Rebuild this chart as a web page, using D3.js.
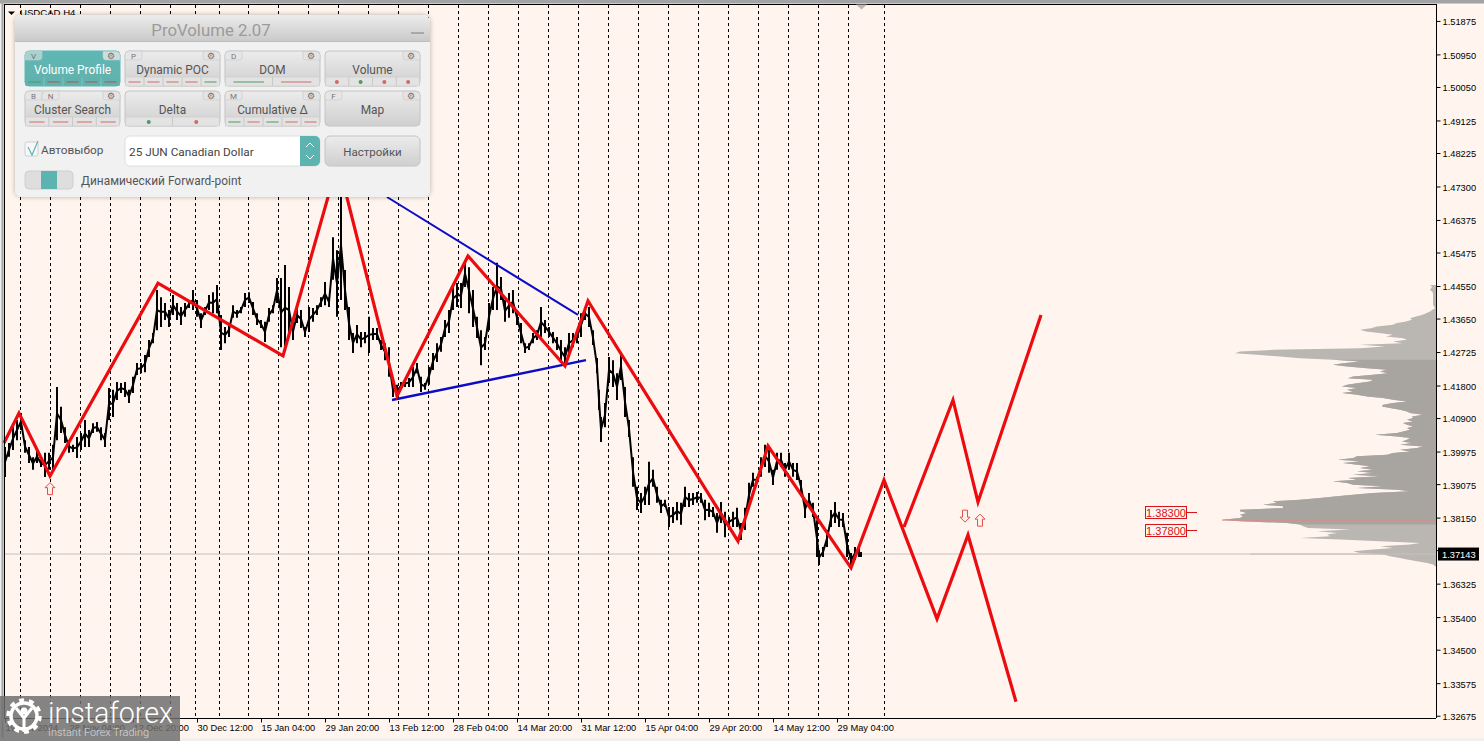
<!DOCTYPE html>
<html><head><meta charset="utf-8">
<script src="https://cdn.jsdelivr.net/npm/d3@7/dist/d3.min.js"></script>
<style>
html,body{margin:0;padding:0;background:#f0f0f0;overflow:hidden}
svg{display:block}
text{font-family:"Liberation Sans",Arial,sans-serif}
.panel text{font-family:Roboto,"Noto Sans",sans-serif}
</style></head><body><svg id="c" width="1484" height="741"></svg>
<script>
const symbolTitle = "USDCAD,H4";
const priceTicks = [1.51875,1.50950,1.50050,1.49125,1.48225,1.47300,1.46375,1.45475,1.44550,1.43650,1.42725,1.41800,1.40900,1.39975,1.39075,1.38150,1.37250,1.36325,1.35400,1.34500,1.33575,1.32675];
const timeBars = [5,69,133,197,261,325,389,453,517,581,645,709,773,837];
const timeLabels = ["19 Nov 2024","28 Nov 04:00","12 Dec 20:00","30 Dec 12:00","15 Jan 04:00","29 Jan 20:00","13 Feb 12:00","28 Feb 04:00","14 Mar 20:00","31 Mar 12:00","15 Apr 04:00","29 Apr 20:00","14 May 12:00","29 May 04:00"];
const sessionBars = [20,50,80,110,140,170,195,219,248,278,308,338,368,398,428,458,488,518,548,578,608,638,668,698,728,758,788,818,848,884];

const barIndex = [5,9,13,17,21,25,29,33,37,41,45,49,53,57,61,65,69,73,77,81,85,89,93,97,101,105,109,113,117,121,125,129,133,137,141,145,149,153,157,161,165,169,173,177,181,185,189,193,197,201,205,209,213,217,221,225,229,233,237,241,245,249,253,257,261,265,269,273,277,281,285,289,293,297,301,305,309,313,317,321,325,329,333,337,341,345,349,353,357,361,365,369,373,377,381,385,389,393,397,401,405,409,413,417,421,425,429,433,437,441,445,449,453,457,461,465,469,473,477,481,485,489,493,497,501,505,509,513,517,521,525,529,533,537,541,545,549,553,557,561,565,569,573,577,581,585,589,593,597,599,601,605,609,613,617,621,625,629,633,637,641,645,649,653,657,661,665,669,673,677,681,685,689,693,697,701,705,709,713,717,721,725,729,733,737,741,745,749,753,757,761,765,769,773,777,781,785,789,793,797,801,805,809,813,817,819,823,827,831,835,839,843,847,851,855,859,861];
const highs = [1.4010,1.4021,1.4065,1.4085,1.4104,1.4029,1.4010,1.3982,1.4002,1.3974,1.3994,1.3994,1.4016,1.4176,1.4121,1.4065,1.4029,1.4016,1.4038,1.4049,1.4085,1.4057,1.4076,1.4079,1.4065,1.4049,1.4173,1.4168,1.4190,1.4187,1.4190,1.4168,1.4204,1.4242,1.4242,1.4264,1.4306,1.4325,1.4444,1.4424,1.4408,1.4389,1.4430,1.4408,1.4397,1.4408,1.4416,1.4444,1.4416,1.4380,1.4397,1.4430,1.4438,1.4458,1.4375,1.4342,1.4353,1.4402,1.4389,1.4397,1.4436,1.4438,1.4411,1.4380,1.4361,1.4356,1.4394,1.4402,1.4477,1.4477,1.4513,1.4452,1.4353,1.4397,1.4389,1.4342,1.4397,1.4394,1.4402,1.4424,1.4466,1.4424,1.4590,1.4554,1.4720,1.4499,1.4397,1.4325,1.4347,1.4328,1.4328,1.4370,1.4339,1.4339,1.4306,1.4297,1.4286,1.4187,1.4182,1.4190,1.4195,1.4201,1.4231,1.4242,1.4204,1.4187,1.4231,1.4270,1.4297,1.4314,1.4361,1.4389,1.4452,1.4463,1.4463,1.4527,1.4507,1.4444,1.4370,1.4333,1.4314,1.4408,1.4452,1.4519,1.4480,1.4416,1.4436,1.4444,1.4389,1.4353,1.4297,1.4297,1.4325,1.4333,1.4397,1.4361,1.4342,1.4328,1.4314,1.4306,1.4286,1.4325,1.4325,1.4333,1.4380,1.4397,1.4397,1.4333,1.4256,1.4168,1.4093,1.4132,1.4259,1.4250,1.4214,1.4270,1.4176,1.4085,1.3982,1.3900,1.3883,1.3900,1.3969,1.3947,1.3900,1.3864,1.3864,1.3844,1.3844,1.3858,1.3856,1.3900,1.3883,1.3883,1.3886,1.3883,1.3864,1.3856,1.3844,1.3828,1.3858,1.3831,1.3817,1.3831,1.3842,1.3800,1.3842,1.3911,1.3939,1.3928,1.3982,1.4016,1.4002,1.3947,1.3994,1.3994,1.3966,1.3994,1.3966,1.3966,1.3919,1.3864,1.3883,1.3856,1.3808,1.3725,1.3734,1.3781,1.3836,1.3858,1.3831,1.3828,1.3773,1.3717,1.3734,1.3734,1.3720];
const lows = [1.3927,1.3983,1.4002,1.4029,1.4057,1.3994,1.3966,1.3947,1.3966,1.3955,1.3927,1.3947,1.3947,1.4029,1.4049,1.4021,1.3994,1.3996,1.3980,1.4002,1.4010,1.4010,1.4049,1.4052,1.4029,1.4010,1.4085,1.4093,1.4140,1.4159,1.4148,1.4132,1.4159,1.4209,1.4214,1.4217,1.4259,1.4297,1.4333,1.4342,1.4361,1.4342,1.4375,1.4361,1.4347,1.4370,1.4394,1.4389,1.4370,1.4339,1.4375,1.4389,1.4380,1.4380,1.4278,1.4297,1.4314,1.4367,1.4367,1.4380,1.4397,1.4408,1.4375,1.4347,1.4339,1.4300,1.4356,1.4380,1.4408,1.4286,1.4278,1.4325,1.4306,1.4353,1.4339,1.4314,1.4328,1.4356,1.4375,1.4397,1.4402,1.4397,1.4472,1.4370,1.4416,1.4389,1.4306,1.4270,1.4297,1.4286,1.4297,1.4270,1.4306,1.4306,1.4278,1.4250,1.4204,1.4148,1.4148,1.4168,1.4176,1.4176,1.4176,1.4214,1.4162,1.4168,1.4182,1.4223,1.4245,1.4273,1.4314,1.4325,1.4389,1.4397,1.4394,1.4452,1.4380,1.4342,1.4311,1.4236,1.4278,1.4333,1.4389,1.4389,1.4416,1.4356,1.4367,1.4380,1.4347,1.4297,1.4270,1.4278,1.4297,1.4306,1.4314,1.4325,1.4314,1.4297,1.4278,1.4245,1.4231,1.4270,1.4286,1.4297,1.4314,1.4361,1.4342,1.4292,1.4214,1.4112,1.4024,1.4065,1.4187,1.4176,1.4140,1.4195,1.4093,1.4038,1.3900,1.3836,1.3828,1.3850,1.3850,1.3900,1.3856,1.3828,1.3844,1.3789,1.3800,1.3808,1.3795,1.3844,1.3844,1.3850,1.3856,1.3856,1.3808,1.3817,1.3817,1.3773,1.3800,1.3761,1.3789,1.3789,1.3789,1.3753,1.3781,1.3844,1.3900,1.3911,1.3928,1.3955,1.3939,1.3905,1.3947,1.3955,1.3928,1.3947,1.3928,1.3919,1.3883,1.3814,1.3844,1.3817,1.3706,1.3684,1.3706,1.3734,1.3789,1.3800,1.3789,1.3789,1.3706,1.3678,1.3698,1.3706,1.3706];

const zigzagBars = [4,19,50,158,283,338,397,468,565,588,738,768,851,884,937,968,1016];
const zigzagPrices = [1.4021,1.4104,1.3930,1.4463,1.4262,1.4798,1.4151,1.4538,1.4234,1.4414,1.3750,1.4013,1.3676,1.3919,1.3535,1.3767,1.3306];
const forecastBars = [904,953,978,1041];
const forecastPrices = [1.3789,1.4140,1.3858,1.4375];
const channelTopBars = [387,578];
const channelTopPrices = [1.4701,1.4375];
const channelBottomBars = [392,586];
const channelBottomPrices = [1.4140,1.4250];
const upArrows = [[50,1.3895],[980,1.3808]];
const downArrows = [[965,1.3819]];

const currentPrice = 1.37143;
const levelPrices = [1.383,1.378];
const profileTop = 1.4458;
const profileStep = 0.00046;
const profileVolumes = [6,4,5,6,4,3,3,3,3,3,3,3,3,2,1,4,6,10,14,20,26,24,30,40,43,59,65,76,70,55,43,50,33,29,43,34,76,51,76,163,196,201,179,156,136,103,76,93,103,89,69,49,56,48,63,83,88,63,66,79,89,94,79,89,83,94,79,69,53,43,29,43,53,54,46,36,29,26,13,24,23,29,23,33,29,23,29,26,33,39,61,39,26,29,34,24,36,13,19,36,26,43,49,79,83,98,76,93,79,66,76,63,79,63,83,56,88,79,103,89,83,53,79,39,26,63,83,99,116,136,163,159,173,153,153,196,196,189,196,193,196,214,196,149,136,133,128,86,119,99,109,106,136,96,56,16,26,56,43,63,83,76,53,46,36,29,19,9,3,1];
const valueAreaHigh = 1.42552, valueAreaLow = 1.3795, pocPrice = 1.3808;

const panelTitle = "ProVolume 2.07";
const buttonLabels = ["Volume Profile","Dynamic POC","DOM","Volume","Cluster Search","Delta","Cumulative Δ","Map"];
const buttonKeys = [["V"],["P"],["D"],[],["B","N"],[],["M"],["F"]];
const buttonStates = ["grrrr","rrrrg","gr","rgrr","rrrr","gr","grgrr",""];
const buttonDots = [false,false,false,true,false,true,false,false];
const contractName = "25 JUN Canadian Dollar";
const settingsLabel = "Настройки", autoLabel = "Автовыбор", forwardLabel = "Динамический Forward-point";

const svg = d3.select("#c");
const bg = "#fff5ee";
const x = d3.scaleLinear().domain([4,1436]).range([4,1436]);
const y = d3.scaleLinear().domain([1.4455,1.3815]).range([286,517.6]);
const vol = d3.scaleLinear().domain([0,214]).range([1436,1222]);

svg.append("rect").attr("x",4).attr("y",4).attr("width",1480).attr("height",734).attr("fill",bg);
svg.append("rect").attr("x",0).attr("y",0).attr("width",1484).attr("height",3.5).attr("fill","#a3a3a3");
svg.append("rect").attr("x",1.5).attr("y",0).attr("width",2).attr("height",738).attr("fill","#a3a3a3");

// session lines
svg.append("g").selectAll("line").data(sessionBars).join("line")
 .attr("x1",d=>x(d)+.5).attr("x2",d=>x(d)+.5).attr("y1",5).attr("y2",718)
 .attr("stroke","#000").attr("stroke-width",1).attr("stroke-dasharray","3,3");

// current price
svg.append("line").attr("x1",5).attr("x2",1436).attr("y1",y(currentPrice)).attr("y2",y(currentPrice)).attr("stroke","#c9bfbc").attr("stroke-width",1);

// profile
const rows = profileVolumes.map((v,i)=>({v,p:profileTop-profileStep*i}));
const areaP = d3.area().y(d=>y(d.p)).x0(1436).x1(d=>vol(d.v));
svg.append("path").attr("d",areaP(rows)).attr("fill","#bab6b2");
svg.append("path").attr("d",areaP(rows.filter(d=>d.p<=valueAreaHigh&&d.p>=valueAreaLow))).attr("fill","#a8a4a0");
svg.append("line").attr("x1",vol(214)).attr("x2",1436).attr("y1",y(pocPrice)).attr("y2",y(pocPrice)).attr("stroke","#e08a86").attr("stroke-width",1);
svg.append("line").attr("x1",1250).attr("x2",1436).attr("y1",y(currentPrice)).attr("y2",y(currentPrice)).attr("stroke","#c9bfbc").attr("stroke-width",1);

// price series: high-low bars joined by a mid-price line
const mids = barIndex.map((b,i)=>[b,(highs[i]+lows[i])/2]);
svg.append("path").attr("d",d3.line().x(d=>x(d[0])).y(d=>y(d[1]))(mids)).attr("fill","none").attr("stroke","#000").attr("stroke-width",2);
svg.append("g").selectAll("line").data(barIndex).join("line")
 .attr("x1",d=>x(d)).attr("x2",d=>x(d)).attr("y1",(d,i)=>y(highs[i])).attr("y2",(d,i)=>y(lows[i]))
 .attr("stroke","#000").attr("stroke-width",2);

// channel
const pl = d3.line().x(d=>x(d[0])).y(d=>y(d[1]));
svg.append("path").attr("d",pl(d3.zip(channelTopBars,channelTopPrices))).attr("stroke","#0c0cc8").attr("stroke-width",2).attr("fill","none");
svg.append("path").attr("d",pl(d3.zip(channelBottomBars,channelBottomPrices))).attr("stroke","#0c0cc8").attr("stroke-width",2.4).attr("fill","none");

// zigzag
const red="#ec0c10";
svg.append("path").attr("d",pl(d3.zip(zigzagBars,zigzagPrices))).attr("stroke",red).attr("stroke-width",3.2).attr("fill","none");
svg.append("path").attr("d",pl(d3.zip(forecastBars,forecastPrices))).attr("stroke",red).attr("stroke-width",3.2).attr("fill","none");

// arrows
const upPath="M0,-6 L5,-1 L2.5,-1 L2.5,6 L-2.5,6 L-2.5,-1 L-5,-1 Z";
svg.append("g").selectAll("path").data(upArrows).join("path").attr("d",upPath).attr("transform",d=>`translate(${x(d[0])},${y(d[1])})`).attr("fill","#fff0ea").attr("stroke","#e2504c").attr("stroke-width",1);
svg.append("g").selectAll("path").data(downArrows).join("path").attr("d",upPath).attr("transform",d=>`translate(${x(d[0])},${y(d[1])}) scale(1,-1)`).attr("fill","#fff0ea").attr("stroke","#e2504c").attr("stroke-width",1);

// levels
const lv = svg.append("g").selectAll("g").data(levelPrices).join("g").attr("transform",d=>`translate(0,${Math.round(y(d))+.5})`);
lv.append("rect").attr("x",1145.5).attr("y",-6).attr("width",41).attr("height",12).attr("fill","none").attr("stroke","#d8131a");
lv.append("line").attr("x1",1186).attr("x2",1197).attr("stroke","#d8131a");
lv.append("text").attr("x",1166).attr("y",4).attr("text-anchor","middle").attr("font-size",11).attr("fill","#d8131a").text(d=>d3.format(".5f")(d));

// axes
const ay = svg.append("g").attr("transform","translate(1436.5,0)").call(d3.axisRight(y).tickValues(priceTicks).tickFormat(d3.format(".5f")).tickSize(4).tickSizeOuter(0));
ay.select(".domain").attr("d","M0,4V718").attr("stroke","#000");
ay.selectAll("text").attr("x",6).attr("dy","0.42em").attr("font-size",9.3).attr("font-family","Liberation Sans").attr("fill","#000");
const ax = svg.append("g").attr("transform","translate(0,718.5)").call(d3.axisBottom(x).tickValues(timeBars).tickFormat((d,i)=>timeLabels[i]).tickSize(4).tickSizeOuter(0));
ax.select(".domain").attr("d","M4,0H1436").attr("stroke","#000");
ax.selectAll("text").attr("text-anchor","start").attr("x",0).attr("y",6).attr("font-size",9.3).attr("font-family","Liberation Sans").attr("fill","#000");

// frame lines
svg.append("line").attr("x1",4.5).attr("x2",4.5).attr("y1",4).attr("y2",718).attr("stroke","#000");
svg.append("line").attr("x1",4).attr("x2",1436).attr("y1",4.5).attr("y2",4.5).attr("stroke","#000");
svg.append("path").attr("d","M856,4.5 L867,4.5 L861.5,9.5 Z").attr("fill","#bdb8b4");

// current price tag
svg.append("rect").attr("x",1438).attr("y",y(currentPrice)-6.5).attr("width",41).attr("height",13).attr("fill","#000");
svg.append("text").attr("x",1442).attr("y",y(currentPrice)+3.5).attr("font-size",9.3).attr("fill","#fff").text(d3.format(".5f")(currentPrice));

// title
svg.append("path").attr("d","M8,11.5 L15,11.5 L11.5,15 Z").attr("fill","#000");
svg.append("text").attr("x",20).attr("y",15.5).attr("font-size",9.6).attr("fill","#000").text(symbolTitle);

// panel
const defs = svg.append("defs");
const g1 = defs.append("linearGradient").attr("id","hdr").attr("x1",0).attr("x2",0).attr("y1",0).attr("y2",1);
g1.append("stop").attr("offset",0).attr("stop-color","#ececec"); g1.append("stop").attr("offset",1).attr("stop-color","#c9c9c9");
const g2 = defs.append("linearGradient").attr("id","btn").attr("x1",0).attr("x2",0).attr("y1",0).attr("y2",1);
g2.append("stop").attr("offset",0).attr("stop-color","#ececec"); g2.append("stop").attr("offset",1).attr("stop-color","#cfcfcf");
const g3 = defs.append("linearGradient").attr("id","teal").attr("x1",0).attr("x2",0).attr("y1",0).attr("y2",1);
g3.append("stop").attr("offset",0).attr("stop-color","#5cb8b4"); g3.append("stop").attr("offset",1).attr("stop-color","#66b0ac");
const sh = defs.append("filter").attr("id","sh").attr("x","-5%").attr("y","-5%").attr("width","110%").attr("height","110%");
sh.append("feDropShadow").attr("dx",0).attr("dy",0).attr("stdDeviation",2.5).attr("flood-color","#000").attr("flood-opacity",.3);

const P = svg.append("g").attr("class","panel");
P.append("rect").attr("x",15).attr("y",15).attr("width",415).attr("height",182).attr("rx",7).attr("fill","#f1f1f1").attr("filter","url(#sh)");
P.append("path").attr("d","M15,42 V22 a7,7 0 0 1 7,-7 H423 a7,7 0 0 1 7,7 V42 Z").attr("fill","url(#hdr)");
P.append("line").attr("x1",15).attr("x2",430).attr("y1",41.5).attr("y2",41.5).attr("stroke","#bdbdbd");
P.append("text").attr("x",211).attr("y",35.5).attr("text-anchor","middle").attr("font-size",16.8).attr("fill","#9b9b9b").text(panelTitle);
P.append("rect").attr("x",411).attr("y",32).attr("width",13).attr("height",2).attr("fill","#a9a9a9");

const stateCol = {g:"#4f9a62",r:"#cf6a66"};
buttonLabels.forEach((lab,i)=>{
  const bx = 25+100*(i%4), by = i<4?51:91, bw = 95, bh = 35;
  const b = P.append("g").attr("transform",`translate(${bx},${by})`);
  const active = i===0;
  b.append("rect").attr("width",bw).attr("height",bh).attr("rx",4).attr("fill",active?"url(#teal)":"url(#btn)").attr("stroke",active?"#5cb8b4":"#c4c4c4");
  const st = buttonStates[i];
  if(st.length){
    b.append("rect").attr("x",.5).attr("y",26).attr("width",bw-1).attr("height",9).attr("fill",active?"#5fb2ae":"#e3e3e3").attr("stroke",active?"none":"#cacaca").attr("stroke-width",.6);
    const w = bw/st.length;
    st.split("").forEach((c,k)=>{
      if(k>0) b.append("line").attr("x1",w*k).attr("x2",w*k).attr("y1",26).attr("y2",35).attr("stroke",active?"#7cc4c0":"#c8c8c8");
      if(buttonDots[i]) b.append("circle").attr("cx",w*k+w/2).attr("cy",31).attr("r",2).attr("fill",stateCol[c]);
      else b.append("line").attr("x1",w*k+w*.18).attr("x2",w*k+w*.82).attr("y1",31).attr("y2",31).attr("stroke",active&&c==="r"?"#b5544e":stateCol[c]).attr("stroke-width",1);
    });
  }
  b.append("text").attr("x",bw/2).attr("y",22.5).attr("text-anchor","middle").attr("font-size",11.9).attr("fill",active?"#fff":"#555").text(lab);
  b.append("path").attr("d",`M${bw-17},0.5 H${bw-4} a4,4 0 0 1 4,4 V9 H${bw-14} a3,3 0 0 1 -3,-3 Z`).attr("fill",active?"#cfdedd":"#e4e4e4").attr("stroke","#c6c6c6").attr("stroke-width",.6);
  b.append("text").attr("x",bw-9).attr("y",7.5).attr("text-anchor","middle").attr("font-size",9).style("font-family","DejaVu Sans").attr("fill","#6f6f6f").text("⚙");
  buttonKeys[i].forEach((k,j)=>{
    b.append("path").attr("d",`M${j*17},4 a4,4 0 0 1 4,-4 H${j*17+17} V6 a3,3 0 0 1 -3,3 H${j*17} Z`).attr("fill",active?"#a9d2cf":"#e6e6e6").attr("stroke","#c6c6c6").attr("stroke-width",.6);
    b.append("text").attr("x",j*17+8.5).attr("y",7.5).attr("text-anchor","middle").attr("font-size",8).attr("fill",active?"#6f6f6f":"#777").text(k);
  });
});
// checkbox
P.append("rect").attr("x",25).attr("y",142).attr("width",13).attr("height",14).attr("rx",2).attr("fill","#f7f7f7").attr("stroke","#cfcfcf");
P.append("path").attr("d","M28,147 L32,155 L38,141").attr("fill","none").attr("stroke","#5cb8b4").attr("stroke-width",1.2);
P.append("text").attr("x",41).attr("y",154).attr("font-size",11.8).attr("fill","#555").text(autoLabel);
// combo
P.append("rect").attr("x",125).attr("y",136).attr("width",195).attr("height",30).attr("rx",5).attr("fill","#fff").attr("stroke","#dedede");
P.append("path").attr("d","M300,136 H315 a5,5 0 0 1 5,5 V161 a5,5 0 0 1 -5,5 H300 Z").attr("fill","#5cb3af");
P.append("path").attr("d","M306,147 l4,-4 l4,4 M306,155 l4,4 l4,-4").attr("fill","none").attr("stroke","#fff").attr("stroke-width",1);
P.append("text").attr("x",129).attr("y",156).attr("font-size",11.8).attr("fill","#444").text(contractName);
P.append("rect").attr("x",325).attr("y",136).attr("width",95).attr("height",30).attr("rx",5).attr("fill","url(#btn)").attr("stroke","#c4c4c4");
P.append("text").attr("x",372.5).attr("y",156).attr("text-anchor","middle").attr("font-size",11.5).attr("fill","#555").text(settingsLabel);
// toggle
P.append("rect").attr("x",25).attr("y",171).attr("width",48).attr("height",18).attr("rx",4).attr("fill","#dedede").attr("stroke","#cfcfcf");
P.append("rect").attr("x",41).attr("y",171).attr("width",16).attr("height",18).attr("fill","#5cb3af");
P.append("text").attr("x",81).attr("y",185).attr("font-size",11.9).attr("fill","#555").text(forwardLabel);

// bottom strip
svg.append("rect").attr("x",0).attr("y",738).attr("width",1484).attr("height",3).attr("fill","#f0f0f0");

// logo
const L = svg.append("g");
L.append("rect").attr("x",0).attr("y",696).attr("width",180).attr("height",45).attr("fill","#6e6e6e").attr("fill-opacity",.84);
L.append("circle").attr("cx",24).attr("cy",716).attr("r",13).attr("fill","none").attr("stroke","#fff").attr("stroke-width",3.5);
L.append("circle").attr("cx",24).attr("cy",716).attr("r",16).attr("fill","none").attr("stroke","#fff").attr("stroke-width",3.5).attr("stroke-dasharray","5,5");
L.append("circle").attr("cx",24).attr("cy",711).attr("r",3.5).attr("fill","#fff");
L.append("path").attr("d","M16,708 L24,718 L32,708 M24,716 V732").attr("stroke","#fff").attr("stroke-width",3).attr("fill","none");
L.append("text").attr("x",48).attr("y",723).attr("font-size",29).style("font-family","Roboto").attr("font-weight",300).attr("fill","#fff").attr("textLength",125).attr("lengthAdjust","spacingAndGlyphs").text("instaforex");
L.append("text").attr("x",48).attr("y",736).attr("font-size",11.5).style("font-family","Roboto").attr("font-weight",300).attr("fill","#d8d8d8").attr("textLength",101).attr("lengthAdjust","spacingAndGlyphs").text("Instant Forex Trading");
</script></body></html>
